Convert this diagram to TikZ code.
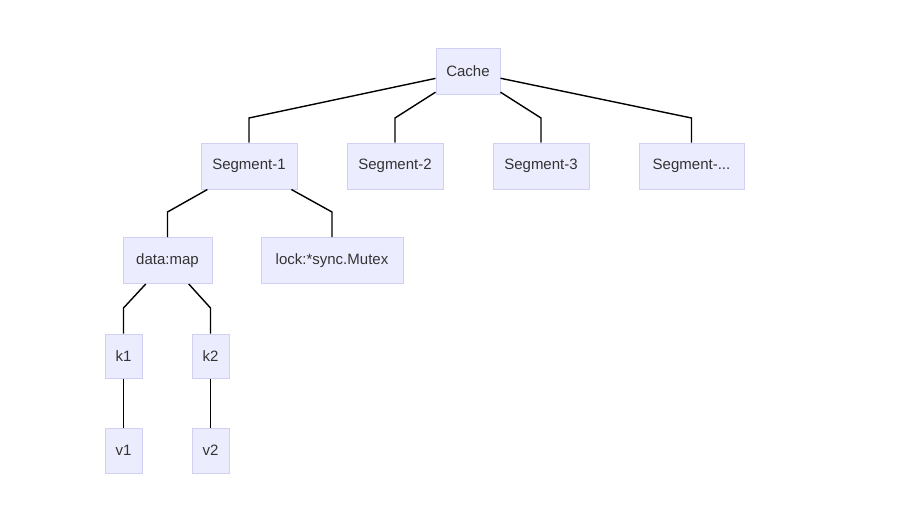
\documentclass[tikz,border=0pt]{standalone}
\usepackage{fontspec}
\setmainfont{Liberation Sans}
\usepackage{xcolor}
\definecolor{boxfill}{RGB}{236,236,255}
\definecolor{boxline}{RGB}{208,208,245}
\definecolor{boxtext}{RGB}{51,51,51}

\begin{document}
\begin{tikzpicture}[x=1pt,y=-1pt,
  box/.style={draw=boxline,fill=boxfill,line width=1pt,minimum height=46pt,inner sep=0pt,
    text=boxtext,font=\fontsize{15}{17}\selectfont},
  link/.style={line width=1.4pt}]
\useasboundingbox (0,0) rectangle (898,519);

\node[box,minimum width=64pt]  (cache) at (468,71.5) {Cache};
\node[box,minimum width=96pt]  (seg1) at (249,166) {Segment-1};
\node[box,minimum width=96pt]  (seg2) at (395,166) {Segment-2};
\node[box,minimum width=96pt]  (seg3) at (541,166) {Segment-3};
\node[box,minimum width=105pt] (segn) at (691.5,166) {Segment-...};
\node[box,minimum width=89pt]  (data) at (167.5,260.5) {data:map};
\node[box,minimum width=142pt] (lock) at (332,260.5) {lock:*sync.Mutex};
\node[box,minimum width=37pt,minimum height=44pt] (k1) at (123.5,356) {k1};
\node[box,minimum width=37pt,minimum height=44pt] (k2) at (210.5,356) {k2};
\node[box,minimum width=37pt,minimum height=45pt] (v1) at (123.5,450.5) {v1};
\node[box,minimum width=37pt,minimum height=45pt] (v2) at (210.5,450.5) {v2};

\coordinate (c1) at (249,118);
\coordinate (c2) at (395,118);
\coordinate (c3) at (541,118);
\coordinate (c4) at (691.5,118);
\coordinate (s1) at (167.5,212);
\coordinate (s2) at (332,212);
\coordinate (d1) at (123.5,308);
\coordinate (d2) at (210.5,308);

\draw[link] (cache) -- (c1) -- (seg1);
\draw[link] (cache) -- (c2) -- (seg2);
\draw[link] (cache) -- (c3) -- (seg3);
\draw[link] (cache) -- (c4) -- (segn);
\draw[link] (seg1) -- (s1) -- (data);
\draw[link] (seg1) -- (s2) -- (lock);
\draw[link] (data) -- (d1) -- (k1);
\draw[link] (data) -- (d2) -- (k2);
\draw[link] (k1) -- (v1);
\draw[link] (k2) -- (v2);
\end{tikzpicture}
\end{document}
